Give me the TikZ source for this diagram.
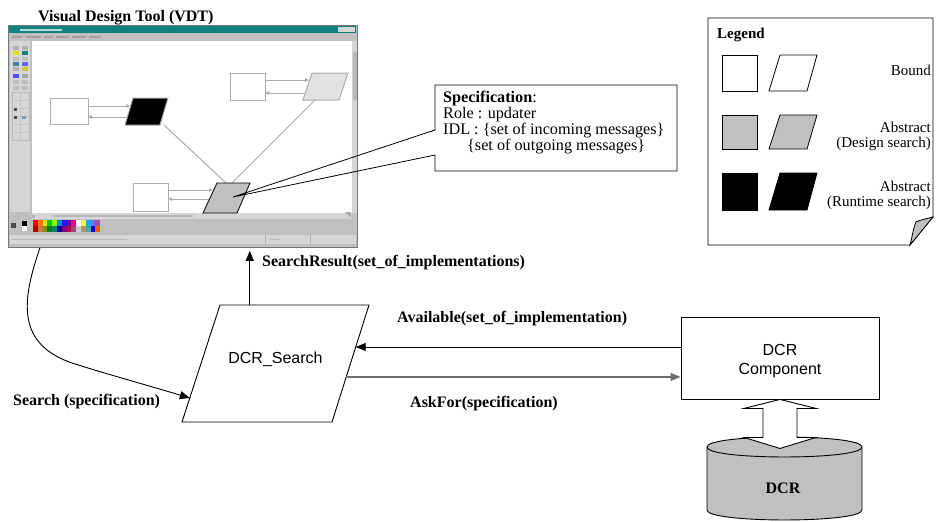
\documentclass[tikz,border=0pt]{standalone}
\usepackage{fontspec}
\setmainfont{Liberation Serif}
\newfontfamily\arialfont{Liberation Sans}
\usetikzlibrary{arrows.meta,calc}
\definecolor{wingray}{RGB}{192,192,192}
\definecolor{winlight}{RGB}{214,214,214}
\definecolor{winframe}{RGB}{120,120,120}
\definecolor{winteal}{RGB}{16,128,128}
\definecolor{shotline}{RGB}{172,172,172}
\definecolor{abstractgray}{RGB}{192,192,192}
\definecolor{designgray}{RGB}{226,226,226}
\definecolor{askgray}{RGB}{110,110,110}
\begin{document}
\begin{tikzpicture}[x=1pt,y=-1pt,
  lbl/.style={font=\fontsize{16}{19}\selectfont\bfseries, inner sep=0pt, anchor=base west},
  legtxt/.style={font=\fontsize{15}{15}\selectfont, inner sep=0pt, anchor=base east},
  sanstxt/.style={font=\arialfont\fontsize{16}{19}\selectfont},
  msgarrow/.style={line width=0.9pt, -{Triangle[length=10pt,width=8pt]}},
  edgeline/.style={draw=black, line width=0.9pt},
  sline/.style={draw=shotline, line width=1pt},
  stip/.style={-{Triangle[length=4pt,width=3.5pt]}},
  sbox/.style={draw=shotline, fill=white, line width=1pt},
]
\useasboundingbox (0,0) rectangle (937,522);

% ---------------- Visual Design Tool window ----------------
\node[lbl] (vdttitle) at (38,21) {Visual Design Tool (VDT)};
\node[draw=winframe, fill=wingray, line width=0.8pt,
      minimum width=349pt, minimum height=222pt, inner sep=0pt,
      anchor=north west] (vdt) at (8,25) {};
% title bar and menu
\fill[winteal] (9,26) rectangle (356,33);
\fill[white!70!winteal] (20,28.6) rectangle (62,30.6);
\fill[winlight] (338,27) rectangle (355,32);
\foreach \a/\b in {12/22,26/41,44/53,56/69,72/86,89/101}
  \fill[gray!75] (\a,36) rectangle (\b,37.6);
% tool palette on the left
\fill[winlight] (10,41) rectangle (30,212);
\foreach \yy/\ca/\cb in {46/gray!60/gray!60,51/yellow!90!black/teal,
                         57/gray!50/gray!50,62/cyan!60!black/blue!60,
                         67/gray!60/yellow!80!black,74/blue!70/gray!70,
                         80/gray!50/gray!50,86/gray!50/gray!50}{
  \fill[\ca] (13,\yy) rectangle (19,{\yy+4});
  \fill[\cb] (22,\yy) rectangle (28,{\yy+4});
}
\draw[gray!55] (12,92) rectangle (29,140);
\foreach \yy in {100,108,116,124,132} \draw[gray!45] (12,\yy) -- (29,\yy);
\draw[gray!45] (20.5,92) -- (20.5,140);
\fill[black!70] (14,108) rectangle (17,111);
\fill[black!70] (14,116) rectangle (17,119);
\fill[cyan!50!gray] (22,116) rectangle (26,119);
% drawing canvas with scroll bars
\fill[white] (32,41) rectangle (352,213);
\fill[winlight] (352,41) rectangle (357,213);
\fill[gray!55] (352.5,52) rectangle (356.5,100);
\fill[winlight] (32,213) rectangle (352,219);
\fill[gray!55] (53,215.3) rectangle (193,217);
\fill[gray!60] (32,214.5) rectangle (35,217.5);
\fill[gray!65] (345,212) -- (351,212) -- (351,218) -- cycle;
% colour palette
\fill[black!70] (11,223) rectangle (16,228);
\fill[black] (22,221) rectangle (27,226);
\fill[white] (22,226) rectangle (27,231);
\foreach \ca/\cb [count=\i from 0] in {
    red/red!70!black, orange!90!red/brown, yellow!90!black/olive,
    green!80!black/green!50!black, lime!80!green/teal, cyan!70!blue/blue!60!black,
    blue!90/violet, violet!80!blue/purple, magenta/magenta!60!black,
    white/gray!40, yellow!80/yellow!60!black, cyan/teal!70,
    blue!55/blue!80!black, violet!70/orange!70!red}{
  \fill[\ca] ({33+4.8*\i},220) rectangle ({37.8+4.8*\i},226);
  \fill[\cb] ({33+4.8*\i},226) rectangle ({37.8+4.8*\i},232);
}
% status bar
\fill[winlight] (10,235) rectangle (356,244);
\fill[gray!55] (12,238.6) rectangle (127,240.2);
\fill[gray!55] (270,238.6) rectangle (280,240.2);
\draw[gray!60] (265,235) -- (265,244) (310,235) -- (310,244);

% diagram shown inside the canvas
\draw[sbox] (50,98) rectangle (88,124);
\draw[sline, fill=black] (133,98) -- (168,98) -- (160,125) -- (125,125) -- cycle;
\draw[sline, stip] (88,106) -- (130,106);
\draw[sline, stip] (127,117) -- (88,117);
\draw[sbox] (230,73) rectangle (265,100);
\draw[sline, fill=designgray] (312,73) -- (348,73) -- (339,100) -- (303,100) -- cycle;
\draw[sline, stip] (265,80) -- (309,80);
\draw[sline, stip] (305,93) -- (265,93);
\draw[sline] (164,125) -- (226,183);
\draw[sline] (315,100) -- (232,183);
\draw[sbox] (133,183) rectangle (168,211);
\draw[sline, stip] (168,190) -- (213,190);
\draw[sline, stip] (209,199) -- (168,199);
\draw[edgeline, line width=0.8pt, fill=abstractgray]
  (217,183) -- (250,183) -- (237,213) -- (203,213) -- cycle;

% ---------------- specification call-out ----------------
\coordinate (calloutpt) at (233,197);
\draw[edgeline, line width=0.8pt] (435,130) -- (calloutpt) -- (435,155)
  -- (435,171) -- (677,171) -- (677,85) -- (435,85) -- cycle;
\node[align=left, anchor=north west, inner sep=0pt,
      font=\fontsize{16.2}{16}\selectfont] (spec) at (443,90.5)
  {\textbf{Specification}:\\
   Role : updater\\
   IDL : \{set of incoming messages\}\\
   \hspace*{24pt}\{set of outgoing messages\}};

% ---------------- legend ----------------
\draw[edgeline, line width=0.8pt] (708,18) -- (933,18) -- (933,217) -- (910,245)
  -- (708,245) -- cycle;
\draw[edgeline, line width=0.8pt, fill=abstractgray] (933,217)
  .. controls (926,219) and (919,220) .. (916,222)
  .. controls (913,229) and (912,238) .. (910,245) -- cycle;
\node[lbl, font=\fontsize{15}{15}\selectfont\bfseries] (legtitle) at (717,38) {Legend};
\foreach \t/\b/\c in {55/91/white,115/149/abstractgray,173/210/black}{
  \draw[edgeline, line width=0.8pt, fill=\c] (722,\t) rectangle (757,\b);
  \draw[edgeline, line width=0.8pt, fill=\c] (780,\t) -- (817,\t) -- (807,\b) -- (769,\b) -- cycle;
}
\node[legtxt] (legbound) at (931,75) {Bound};
\node[legtxt] (legabsA) at (931,132) {Abstract};
\node[legtxt] (legdesign) at (931,147) {(Design search)};
\node[legtxt] (legabsB) at (931,191) {Abstract};
\node[legtxt] (legruntime) at (931,206) {(Runtime search)};

% ---------------- DCR_Search ----------------
\coordinate (srTL) at (220,305);
\coordinate (srTR) at (369,305);
\coordinate (srBR) at (332,422);
\coordinate (srBL) at (182,422);
\draw[edgeline] (srTL) -- (srTR) -- (srBR) -- (srBL) -- cycle;
\node[sanstxt, anchor=base, inner sep=0pt] (dcrsearch) at (275.5,363) {DCR\_Search};

% ---------------- DCR component and repository ----------------
\node[edgeline, minimum width=198pt, minimum height=82pt, inner sep=0pt] (dcrc) at (780,358) {};
\node[sanstxt, align=center, inner sep=0pt] (dcrclabel) at (780,361) {DCR\\Component};

\draw[edgeline, fill=abstractgray] (707,447) -- (707,510)
  .. controls (707,523.3) and (862,523.3) .. (862,510) -- (862,447)
  .. controls (862,433.7) and (707,433.7) .. (707,447) -- cycle;
\draw[edgeline] (707,447) .. controls (707,460.3) and (862,460.3) .. (862,447);
\node[lbl, anchor=base] (dcr) at (783,493) {DCR};

\begin{scope}[shift={(dcrc.south)}]
  \draw[edgeline, fill=white] (0,0) -- (36,9) -- (17,9) -- (17,38) -- (36,38)
    -- (0,49) -- (-36,38) -- (-17,38) -- (-17,9) -- (-36,9) -- cycle;
\end{scope}

% ---------------- messages ----------------
\coordinate (srTop) at ($(srTL)!0.2!(srTR)$);
\coordinate (avl) at ($(srTR)!0.359!(srBR)$);
\coordinate (ask) at ($(srTR)!0.615!(srBR)$);
\coordinate (srch) at ($(srTL)!0.795!(srBL)$);
\coordinate (vdtsrc) at ($(vdt.south west)+(32,0)$);

\draw[msgarrow] (srTop) -- ($(srTop |- vdt.south)+(0,3)$);
\node[lbl] (lblresult) at (262,266) {SearchResult(set\_of\_implementations)};

\draw[msgarrow] (dcrc.west |- avl) -- (avl);
\node[lbl] (lblavail) at (397,322) {Available(set\_of\_implementation)};

\draw[msgarrow, draw=askgray, line width=1.3pt] (ask) -- (dcrc.west |- ask);
\node[lbl] (lblask) at (410,407) {AskFor(specification)};

\draw[msgarrow] (vdtsrc) .. controls (22,300) and (15,345) .. (75,364)
  .. controls (110,375) and (150,386) .. (srch);
\node[lbl] (lblsearch) at (13,405) {Search (specification)};
\end{tikzpicture}
\end{document}
